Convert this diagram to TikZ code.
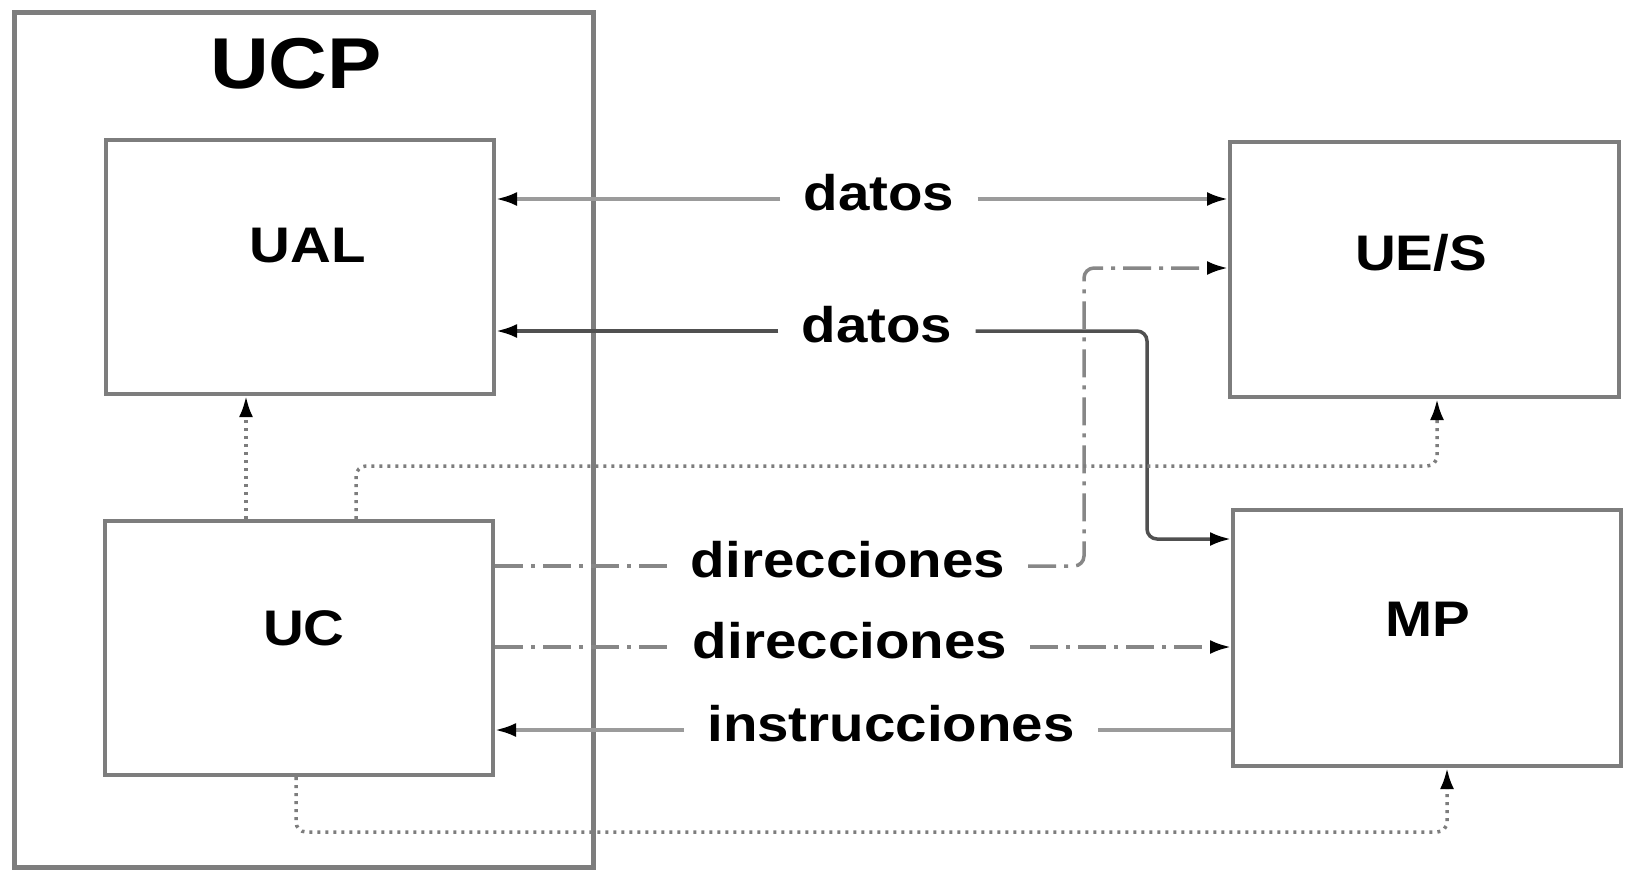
\documentclass[tikz,border=0pt]{standalone}
\usepackage{fontspec}
\setmainfont[FakeStretch=1.13]{Liberation Sans}
\usetikzlibrary{arrows.meta}
\definecolor{boxgray}{RGB}{125,125,125}
\definecolor{lightline}{RGB}{155,155,155}
\definecolor{darkline}{RGB}{80,80,80}
\definecolor{dashline}{RGB}{135,135,135}
\definecolor{dotline}{RGB}{125,125,125}
\begin{document}
\begin{tikzpicture}[x=1pt,y=-1pt,
  box/.style={draw=boxgray,line width=4pt,minimum width=388pt,minimum height=254pt,inner sep=0pt},
  boxlab/.style={font=\fontsize{50}{55}\selectfont\bfseries,anchor=base,inner sep=0pt},
  lab/.style={font=\fontsize{50}{55}\selectfont\bfseries,text height=40pt,text depth=18pt,inner xsep=23pt,inner ysep=0pt},
  tip/.style={-{Latex[length=21pt,width=14pt,black]}},
  light/.style={draw=lightline,line width=3.5pt},
  dark/.style={draw=darkline,line width=3.5pt},
  dashedline/.style={draw=dashline,line width=3.5pt,dash pattern=on 28pt off 8pt on 4pt off 8pt},
  dottedline/.style={draw=dotline,line width=3.5pt,dash pattern=on 3pt off 5pt},
  corner/.style={rounded corners=10pt}
]
\useasboundingbox (0,0) rectangle (1627,871);
% boxes
\node[box,line width=5pt,minimum width=579pt,minimum height=855pt] (ucp) at (304,440) {};
\node[boxlab,font=\fontsize{72}{80}\selectfont\bfseries] (ucplab) at (296,88) {UCP};
\node[box] (ual) at (300,267) {};
\node[boxlab] (uallab) at (308,262) {UAL};
\node[box] (uc) at (299,648) {};
\node[boxlab] (uclab) at (304,645) {UC};
\node[box,minimum width=389pt,minimum height=255pt] (ues) at (1424.5,269.5) {};
\node[boxlab] (ueslab) at (1421,270) {UE/S};
\node[box,minimum height=256pt] (mp) at (1427,638) {};
\node[boxlab] (mplab) at (1428,636) {MP};
% labels
\node[lab] (ld1) at (879,199) {datos};
\node[lab] (ld2) at (877,331) {datos};
\node[lab] (la1) at (848,566) {direcciones};
\node[lab] (la2) at (850,647) {direcciones};
\node[lab] (li) at (891,730) {instrucciones};
% coordinates
\coordinate (a1) at (1084,268);
\coordinate (d2a) at (1147,539);
\coordinate (c1) at (246,460);
\coordinate (c2) at (356,466);
\coordinate (c3) at (1437,466);
\coordinate (c4) at (296,832);
\coordinate (c5) at (1447,832);
% datos 1
\draw[light,tip] (ld1.west) -- (ual.east |- ld1);
\draw[light,tip] (ld1.east) -- (ues.west |- ld1);
% datos 2
\draw[dark,tip] (ld2.west) -- (ual.east |- ld2);
\draw[dark,tip,corner] (ld2.east) -| (d2a) -- (mp.west |- d2a);
% direcciones 1
\draw[dashedline] (uc.east |- la1) -- (la1.west);
\draw[dashedline,tip,corner] (la1.east) -| (a1) -- (ues.west |- a1);
% direcciones 2
\draw[dashedline] (uc.east |- la2) -- (la2.west);
\draw[dashedline,tip] (la2.east) -- (mp.west |- la2);
% instrucciones
\draw[light] (mp.west |- li) -- (li.east);
\draw[light,tip] (li.west) -- (uc.east |- li);
% control (dotted)
\draw[dottedline,tip] (uc.north -| c1) -- (ual.south -| c1);
\draw[dottedline,tip,corner] (uc.north -| c2) -- (c2) -- (c3) -- (ues.south -| c3);
\draw[dottedline,tip,corner] (uc.south -| c4) -- (c4) -- (c5) -- (mp.south -| c5);
\end{tikzpicture}
\end{document}
